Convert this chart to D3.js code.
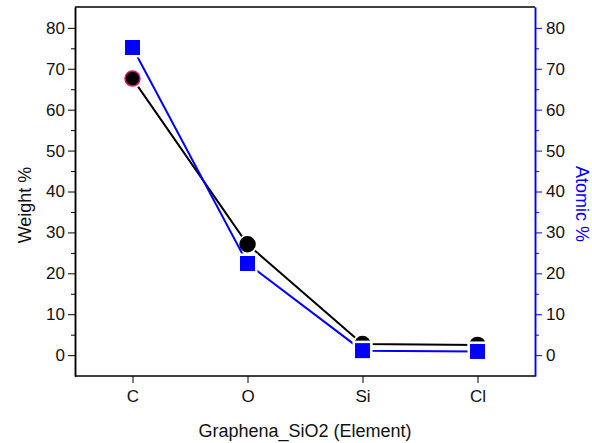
<!DOCTYPE html>
<html>
<head>
<meta charset="utf-8">
<script src="https://cdn.jsdelivr.net/npm/d3@7"></script>
<style>
  body { margin: 0; background: #fff; }
  text { font-family: "Liberation Sans", Arial, sans-serif; }
</style>
</head>
<body>
<svg id="chart" width="592" height="443"></svg>
<script>
// data
var elements = ["C", "O", "Si", "Cl"];
var weight = [67.6, 27.1, 2.7, 2.5];
var atomic = [75.2, 22.4, 1.1, 0.9];
var yTicks = [0, 10, 20, 30, 40, 50, 60, 70, 80];
var yMinor = [5, 15, 25, 35, 45, 55, 65, 75];

var svg = d3.select("#chart");
var pLeft = 75, pRight = 535, pTop = 7, pBottom = 376;

var x = d3.scalePoint().domain(elements).range([pLeft, pRight]).padding(0.5);
var y = d3.scaleLinear().domain([-5.1, 85.1]).range([pBottom, pTop]);
var y2 = d3.scaleLinear().domain([-5.1, 85.1]).range([pBottom, pTop]);

// frame
svg.append("line").attr("x1", pLeft).attr("x2", pRight).attr("y1", pTop).attr("y2", pTop)
  .attr("stroke", "#000").attr("stroke-width", 1.5);
svg.append("line").attr("x1", pLeft).attr("x2", pRight).attr("y1", pBottom).attr("y2", pBottom)
  .attr("stroke", "#000").attr("stroke-width", 1.5);

// left axis
let gL = svg.append("g").attr("transform", "translate(" + pLeft + ",0)");
gL.call(d3.axisLeft(y).tickValues(yTicks).tickSize(7).tickPadding(3).tickSizeOuter(0));
gL.append("g").call(d3.axisLeft(y).tickValues(yMinor).tickSize(4).tickFormat("").tickSizeOuter(0));
gL.selectAll(".domain").attr("stroke", "#000").attr("stroke-width", 1.5);
gL.selectAll("text").attr("font-size", 17).attr("fill", "#111");
gL.selectAll(".tick line").attr("stroke-width", 1);

// right axis (blue)
let gR = svg.append("g").attr("transform", "translate(" + pRight + ",0)");
gR.call(d3.axisRight(y2).tickValues(yTicks).tickSize(7).tickPadding(4).tickSizeOuter(0));
gR.append("g").call(d3.axisRight(y2).tickValues(yMinor).tickSize(4).tickFormat("").tickSizeOuter(0));
gR.selectAll(".domain").attr("stroke", "#0000ff").attr("stroke-width", 1.5);
gR.selectAll(".tick line").attr("stroke", "#0000ff").attr("stroke-width", 1);
gR.selectAll("text").attr("font-size", 17).attr("fill", "#111");

// bottom axis
let gB = svg.append("g").attr("transform", "translate(0," + pBottom + ")");
gB.call(d3.axisBottom(x).tickSize(7).tickPadding(7));
gB.select(".domain").remove();
gB.selectAll("text").attr("font-size", 17).attr("fill", "#111");

// titles
svg.append("text").text("Weight %")
  .attr("transform", "translate(31,205) rotate(-90)")
  .attr("text-anchor", "middle").attr("font-size", 18).attr("fill", "#111");
svg.append("text").text("Atomic %")
  .attr("transform", "translate(576,204) rotate(90)")
  .attr("text-anchor", "middle").attr("font-size", 18).attr("fill", "#0000ff");
svg.append("text").text("Graphena_SiO2 (Element)")
  .attr("x", 305).attr("y", 437)
  .attr("text-anchor", "middle").attr("font-size", 18).attr("fill", "#111");

// weight series
let lineW = d3.line().x((d, i) => x(elements[i])).y(d => y(d));
let lineA = d3.line().x((d, i) => x(elements[i])).y(d => y2(d));

svg.append("path").datum(weight).attr("d", lineW)
  .attr("fill", "none").attr("stroke", "#000").attr("stroke-width", 2);
svg.selectAll(".wpt").data(weight).enter().append("circle")
  .attr("class", "wpt")
  .attr("cx", (d, i) => x(elements[i])).attr("cy", d => y(d)).attr("r", 10)
  .attr("fill", "#fff");
svg.selectAll(".wpt2").data(weight).enter().append("circle")
  .attr("class", "wpt2")
  .attr("cx", (d, i) => x(elements[i])).attr("cy", d => y(d)).attr("r", 7.5)
  .attr("fill", "#000")
  .attr("stroke", (d, i) => i == 0 ? "#e8106a" : "#000").attr("stroke-width", 1.5);

// atomic series
svg.append("path").datum(atomic).attr("d", lineA)
  .attr("fill", "none").attr("stroke", "#0000ff").attr("stroke-width", 2);
svg.selectAll(".apt").data(atomic).enter().append("rect")
  .attr("class", "apt")
  .attr("x", (d, i) => x(elements[i]) - 10).attr("y", d => y2(d) - 10)
  .attr("width", 20).attr("height", 20).attr("fill", "#fff");
svg.selectAll(".apt2").data(atomic).enter().append("rect")
  .attr("class", "apt2")
  .attr("x", (d, i) => x(elements[i]) - 7.5).attr("y", d => y2(d) - 7.5)
  .attr("width", 15).attr("height", 15).attr("fill", "#0000ff");
</script>
</body>
</html>
